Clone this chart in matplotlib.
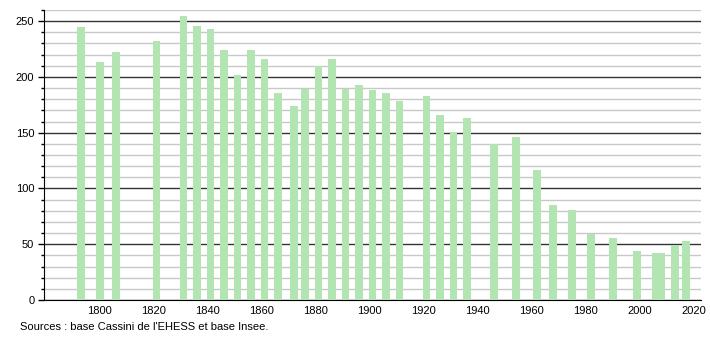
import matplotlib.pyplot as plt
from matplotlib.ticker import MultipleLocator

plt.rcParams['font.family'] = ['Liberation Sans', 'DejaVu Sans']

# population by census year
years = [1793, 1800, 1806, 1821, 1831, 1836, 1841, 1846, 1851, 1856,
         1861, 1866, 1872, 1876, 1881, 1886, 1891, 1896, 1901, 1906,
         1911, 1921, 1926, 1931, 1936, 1946, 1954, 1962, 1968, 1975,
         1982, 1990, 1999, 2006, 2008, 2013, 2017]
population = [245, 213, 222, 232, 255, 246, 243, 224, 202, 224,
              216, 186, 174, 189, 210, 216, 189, 193, 188, 186,
              178, 183, 166, 151, 163, 140, 146, 117, 85, 81,
              59, 56, 44, 42, 42, 49, 53]
xticks = [1800, 1820, 1840, 1860, 1880, 1900, 1920, 1940, 1960, 1980, 2000, 2020]

bar_color = '#b3e5b3'

fig = plt.figure(figsize=(7.1, 3.4), dpi=100)
ax = fig.add_axes([0.062, 0.1176, 0.925, 0.853])

ax.bar(years, population, width=2.9, color=bar_color, zorder=3)

ax.set_xlim(1779.3, 2022.6)
ax.set_ylim(0, 260)

# grid: light every 10, dark every 50
ax.yaxis.set_major_locator(MultipleLocator(50))
ax.yaxis.set_minor_locator(MultipleLocator(10))
ax.grid(axis='y', which='minor', color='#c8c8c8', linewidth=1, zorder=1)
ax.grid(axis='y', which='major', color='#333333', linewidth=1, zorder=2)

ax.set_xticks(xticks)
ax.tick_params(axis='x', length=0, labelsize=8, pad=4)
ax.tick_params(axis='y', which='major', length=4, width=1, labelsize=8, pad=3)
ax.tick_params(axis='y', which='minor', length=2, width=1)

for side in ['top', 'right']:
    ax.spines[side].set_visible(False)
ax.spines['left'].set_color('black')
ax.spines['bottom'].set_color('black')

fig.text(20 / 710, 1 - 327 / 340, "Sources : base Cassini de l'EHESS et base Insee.",
         fontsize=8, va='center', ha='left')

fig.savefig('out.png', dpi=100)
